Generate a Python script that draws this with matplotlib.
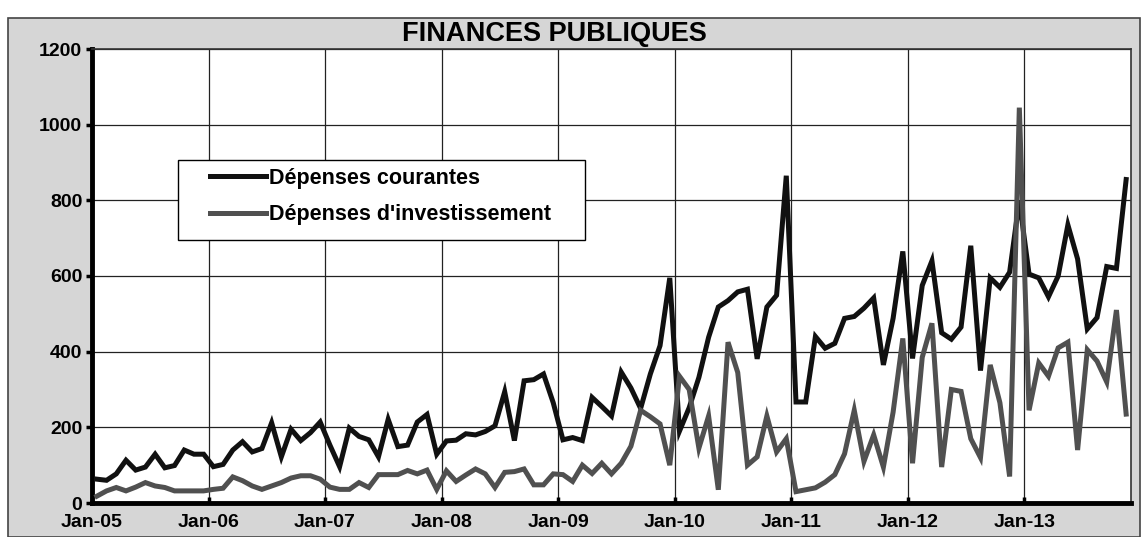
import matplotlib
matplotlib.use("Agg")
import matplotlib.pyplot as plt
import numpy as np
from matplotlib.patches import Rectangle

plt.rcParams['font.family'] = ['Liberation Sans', 'DejaVu Sans']
plt.rcParams['font.weight'] = 'bold'

# monthly series, Jan-05 .. Nov-13
courantes = [
    63, 60, 77, 113, 87, 95, 129, 93, 99, 140, 129, 129,
    96, 102, 140, 162, 135, 144, 212, 122, 195, 165, 186, 214,
    153, 96, 198, 176, 167, 122, 221, 149, 153, 214, 234, 129,
    164, 166, 183, 180, 189, 204, 294, 165, 323, 326, 341, 265,
    167, 173, 165, 279, 255, 230, 346, 304, 250, 341, 416, 595,
    190, 252, 332, 438, 518, 535, 558, 565, 381, 518, 549, 865,
    267, 267, 440, 409, 422, 488, 493, 515, 542, 365, 488, 665,
    382, 575, 640, 450, 433, 465, 680, 350, 595, 570, 610, 800,
    605, 595, 545, 600, 735, 645, 460, 490, 625, 620, 855,
]
investissement = [
    18, 32, 41, 32, 42, 54, 45, 41, 32, 32, 32, 32,
    36, 39, 69, 59, 45, 36, 45, 54, 66, 72, 72, 63,
    42, 36, 36, 54, 41, 75, 75, 75, 86, 77, 87, 36,
    85, 57, 74, 90, 77, 41, 81, 83, 90, 48, 48, 77,
    75, 57, 100, 78, 105, 77, 105, 150, 245, 228, 209, 100,
    335, 300, 145, 230, 35, 425, 345, 100, 122, 230, 135, 170,
    30, 35, 40, 55, 75, 130, 245, 110, 180, 95, 240, 435,
    105, 385, 475, 95, 300, 295, 170, 120, 365, 265, 70, 1045,
    245, 370, 335, 410, 425, 140, 405, 375, 320, 510, 235,
]
years = ['Jan-05', 'Jan-06', 'Jan-07', 'Jan-08', 'Jan-09',
         'Jan-10', 'Jan-11', 'Jan-12', 'Jan-13']

x = np.arange(len(courantes)) + 0.5

W, H = 1148, 537
fig = plt.figure(figsize=(W / 100, H / 100), dpi=100)
fig.patch.set_facecolor('white')
# grey chart area behind the plot
fig.add_artist(Rectangle((8 / W, 0), 1132 / W, 1 - 18 / H,
                         transform=fig.transFigure, facecolor='#d6d6d6',
                         edgecolor='#444444', linewidth=1.2, zorder=-10))

ax_l, ax_r, ax_t, ax_b = 92, 1131, 49, 503
ax = fig.add_axes([ax_l / W, 1 - ax_b / H, (ax_r - ax_l) / W, (ax_b - ax_t) / H])
ax.set_zorder(1)
ax.set_facecolor('white')

ax.plot(x, courantes, color='#111111', lw=3.6, label='Dépenses courantes',
        solid_joinstyle='miter', zorder=3)
ax.plot(x, investissement, color='#505050', lw=3.6, label="Dépenses d'investissement",
        solid_joinstyle='miter', zorder=3)

ax.set_xlim(0, len(courantes))
ax.set_ylim(0, 1200)
ax.set_xticks(np.arange(0, 108, 12))
ax.set_xticklabels(years)
ax.set_yticks(np.arange(0, 1201, 200))
ax.grid(True, color='#222222', lw=0.9)
ax.set_axisbelow(True)

for s in ['left', 'bottom']:
    ax.spines[s].set_linewidth(3.5)
    ax.spines[s].set_color('black')
for s in ['top', 'right']:
    ax.spines[s].set_linewidth(1.2)
    ax.spines[s].set_color('#333333')

ax.tick_params(axis='y', direction='out', length=4, width=2.5, labelsize=14, pad=3)
ax.tick_params(axis='x', direction='in', length=4, width=2.5, labelsize=14, pad=8)

fig.text(554 / W, 1 - 34 / H, 'FINANCES PUBLIQUES', fontsize=19.5,
         fontweight='bold', ha='center', va='center')


def axfrac(px, py):
    return (px - ax_l) / (ax_r - ax_l), (ax_b - py) / (ax_b - ax_t)


# legend frame drawn separately so the padding can be set on each side
fx0, fy0 = axfrac(178, 240)
fx1, fy1 = axfrac(585, 160)
ax.add_patch(Rectangle((fx0, fy0), fx1 - fx0, fy1 - fy0, transform=ax.transAxes,
                       facecolor='white', edgecolor='black', lw=1.0, zorder=4))
lx, ly = axfrac(210, 168)
leg = ax.legend(loc='upper left', bbox_to_anchor=(lx, ly), fontsize=15.5,
                frameon=False, borderpad=0, borderaxespad=0,
                labelspacing=0.7, handlelength=2.6, handletextpad=0.15)
leg.set_zorder(5)
for line in leg.get_lines():
    line.set_linewidth(3.6)

fig.savefig('out.png', dpi=100)
